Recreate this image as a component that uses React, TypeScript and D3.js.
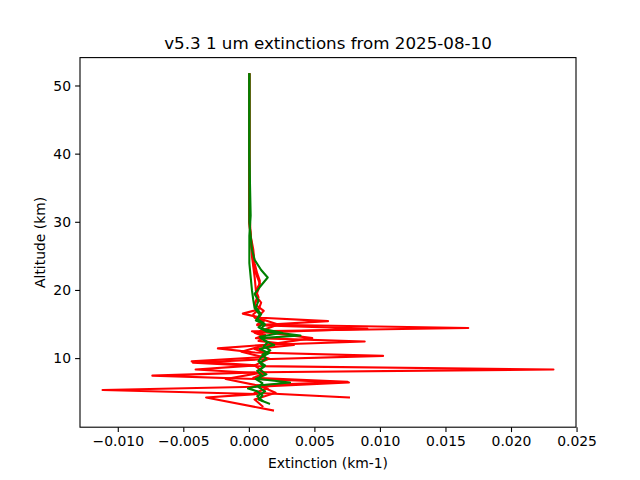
import * as d3 from 'd3';

// red profiles
const redAlt1 = [2.4, 4.3, 4.8, 5.4, 5.9, 6.5, 7.0, 7.5, 8.0, 8.4, 8.9, 9.4, 9.9, 10.4, 10.9, 11.5, 12.0, 12.5, 13.0, 13.5, 14.0, 14.5, 15.0, 15.5, 16.0, 16.5, 17.0, 18.0, 19.0, 20.0, 21.0, 22.0, 23.0, 24.0, 26.0, 28.0, 30.0, 35.0, 40.0, 45.0, 51.7];
const redExt1 = [0.0018, -0.0033, 0.0006, -0.0112, 0.0011, 0.0076, 0.0004, -0.0074, 0.0009, 0.0232, 0.0006, -0.0043, 0.001, 0.0102, 0.0004, -0.0024, 0.001, 0.0088, 0.0005, 0.0012, 0.0002, 0.0167, 0.0006, 0.0011, 0.0004, 0.0003, 0.0006, 0.0004, 0.0006, 0.0005, 0.0008, 0.0006, 0.0004, 0.0003, 0.0002, 0.0001, 0.00005, 0, 0, 0, 0];

const redAlt2 = [4.3, 5.0, 5.6, 6.1, 6.6, 7.2, 7.8, 8.4, 9.0, 9.6, 10.2, 10.8, 11.4, 12.0, 12.6, 13.2, 13.8, 14.4, 14.9, 15.5, 16.0, 16.6, 17.2, 18.2, 19.2, 20.2, 21.4, 22.5, 24.0, 26.0, 28.0, 30.0, 40.0, 51.7];
const redExt2 = [0.0076, 0.0004, 0.0014, 0.0006, 0.0075, 0.0003, 0.0012, -0.0041, 0.0005, -0.0044, 0.0008, 0.0013, 0.0004, 0.0034, 0.0007, 0.0012, 0.0004, 0.009, 0.0006, 0.006, 0.0009, -0.0005, 0.0007, 0.0009, 0.0005, 0.0007, 0.0008, 0.0006, 0.0004, 0.0003, 0.0001, 0, 0, 0];

const redAlt3 = [3.0, 4.0, 5.0, 6.0, 7.0, 8.0, 9.0, 10.0, 11.0, 12.0, 13.0, 14.0, 15.0, 16.0, 17.0, 18.0, 19.0, 20.0, 22.0, 25.0, 30.0, 51.7];
const redExt3 = [0.001, 0.0004, 0.002, 0.0008, -0.0018, 0.0011, 0.0004, 0.0015, -0.0006, 0.0012, 0.0048, 0.0008, 0.0022, 0.0006, 0.0011, 0.0004, 0.0007, 0.0005, 0.0004, 0.0002, 0, 0];

// green profiles
const greenAlt1 = [3.4, 4.0, 4.6, 5.2, 5.6, 6.1, 6.5, 7.0, 7.6, 8.2, 8.8, 9.4, 10.0, 10.6, 11.2, 11.8, 12.4, 13.0, 13.4, 14.0, 14.6, 15.2, 15.8, 16.5, 17.5, 18.5, 19.5, 20.5, 21.9, 23.0, 24.5, 26.0, 28.0, 30.0, 40.0, 51.7];
const greenExt1 = [0.0015, 0.0007, 0.001, 0.0006, -0.0001, 0.0009, 0.0031, 0.0007, 0.0009, 0.0006, 0.0011, 0.0008, 0.0013, 0.001, 0.0016, 0.0011, 0.0014, 0.0009, 0.0039, 0.0013, 0.0007, 0.0011, 0.0006, 0.0009, 0.0005, 0.0007, 0.0004, 0.0008, 0.0014, 0.0009, 0.0004, 0.0002, 0.0001, 0, 0, 0];

const greenAlt2 = [3.8, 4.5, 5.2, 5.8, 6.4, 7.0, 7.7, 8.3, 9.0, 9.6, 10.2, 10.8, 11.4, 12.0, 12.6, 13.2, 13.8, 14.4, 15.0, 15.6, 16.4, 17.4, 18.6, 20.0, 22.0, 24.0, 28.0, 31.0, 40.0, 51.7];
const greenExt2 = [0.001, 0.0006, 0.0012, 0.0007, 0.001, 0.0005, 0.0013, 0.0008, 0.0012, 0.0007, 0.0009, 0.0015, 0.0008, 0.0019, 0.0012, 0.0008, 0.0025, 0.0009, 0.0012, 0.0005, 0.0008, 0.0004, 0.0003, 0.0002, 0.0001, 0, 0, 0.0001, 0, 0];

const xTicks = [-0.01, -0.005, 0, 0.005, 0.01, 0.015, 0.02, 0.025];
const yTicks = [10, 20, 30, 40, 50];

const series = [
  { alt: redAlt1, ext: redExt1, color: 'red' },
  { alt: redAlt2, ext: redExt2, color: 'red' },
  { alt: redAlt3, ext: redExt3, color: 'red' },
  { alt: greenAlt1, ext: greenExt1, color: 'green' },
  { alt: greenAlt2, ext: greenExt2, color: 'green' },
];

const W = 640;
const H = 480;
const m = { left: 80, right: 576, top: 57.6, bottom: 427.2 };
const font = 'DejaVu Sans, sans-serif';
const fs = 13.9;

const pad = (lo: number, hi: number): [number, number] => {
  const p = (hi - lo) * 0.05;
  return [lo - p, hi + p];
};

export default function App() {
  const allExt = series.flatMap((s) => s.ext);
  const allAlt = series.flatMap((s) => s.alt);
  const x = d3.scaleLinear().domain(pad(d3.min(allExt)!, d3.max(allExt)!)).range([m.left, m.right]);
  const y = d3.scaleLinear().domain(pad(d3.min(allAlt)!, d3.max(allAlt)!)).range([m.bottom, m.top]);

  const fmtX = (v: number) => d3.format('.3f')(v).replace('-', '\u2212');

  return (
    <svg width={W} height={H} style={{ position: 'absolute', left: 0, top: 0, background: '#fff' }}>
      <defs>
        <clipPath id="plot">
          <rect x={m.left} y={m.top} width={m.right - m.left} height={m.bottom - m.top} />
        </clipPath>
      </defs>
      <g clipPath="url(#plot)">
        {series.map((s, i) => {
          const pts = s.alt.map((a, j) => [s.ext[j], a] as [number, number]);
          const line = d3
            .line<[number, number]>()
            .x((d) => x(d[0]))
            .y((d) => y(d[1]));
          return (
            <path key={i} d={line(pts)!} fill="none" stroke={s.color} strokeWidth={2.1} strokeLinejoin="round" strokeLinecap="square" />
          );
        })}
      </g>
      <rect x={m.left} y={m.top} width={m.right - m.left} height={m.bottom - m.top} fill="none" stroke="#000" strokeWidth={1.1} />
      {xTicks.map((t) => (
        <g key={t} transform={`translate(${x(t)},${m.bottom})`}>
          <line y2={4.9} stroke="#000" strokeWidth={1.1} />
          <text y={19} textAnchor="middle" fontFamily={font} fontSize={fs} fill="#000">
            {fmtX(t)}
          </text>
        </g>
      ))}
      {yTicks.map((t) => (
        <g key={t} transform={`translate(${m.left},${y(t)})`}>
          <line x2={-4.9} stroke="#000" strokeWidth={1.1} />
          <text x={-9} dy="0.35em" textAnchor="end" fontFamily={font} fontSize={fs} fill="#000">
            {t}
          </text>
        </g>
      ))}
      <text x={(m.left + m.right) / 2} y={468} textAnchor="middle" fontFamily={font} fontSize={fs} fill="#000">
        Extinction (km-1)
      </text>
      <text
        transform={`translate(45,${(m.top + m.bottom) / 2}) rotate(-90)`}
        textAnchor="middle"
        fontFamily={font}
        fontSize={fs}
        fill="#000"
      >
        Altitude (km)
      </text>
      <text x={(m.left + m.right) / 2} y={49} textAnchor="middle" fontFamily={font} fontSize={16.7} fill="#000">
        v5.3 1 um extinctions from 2025-08-10
      </text>
    </svg>
  );
}
